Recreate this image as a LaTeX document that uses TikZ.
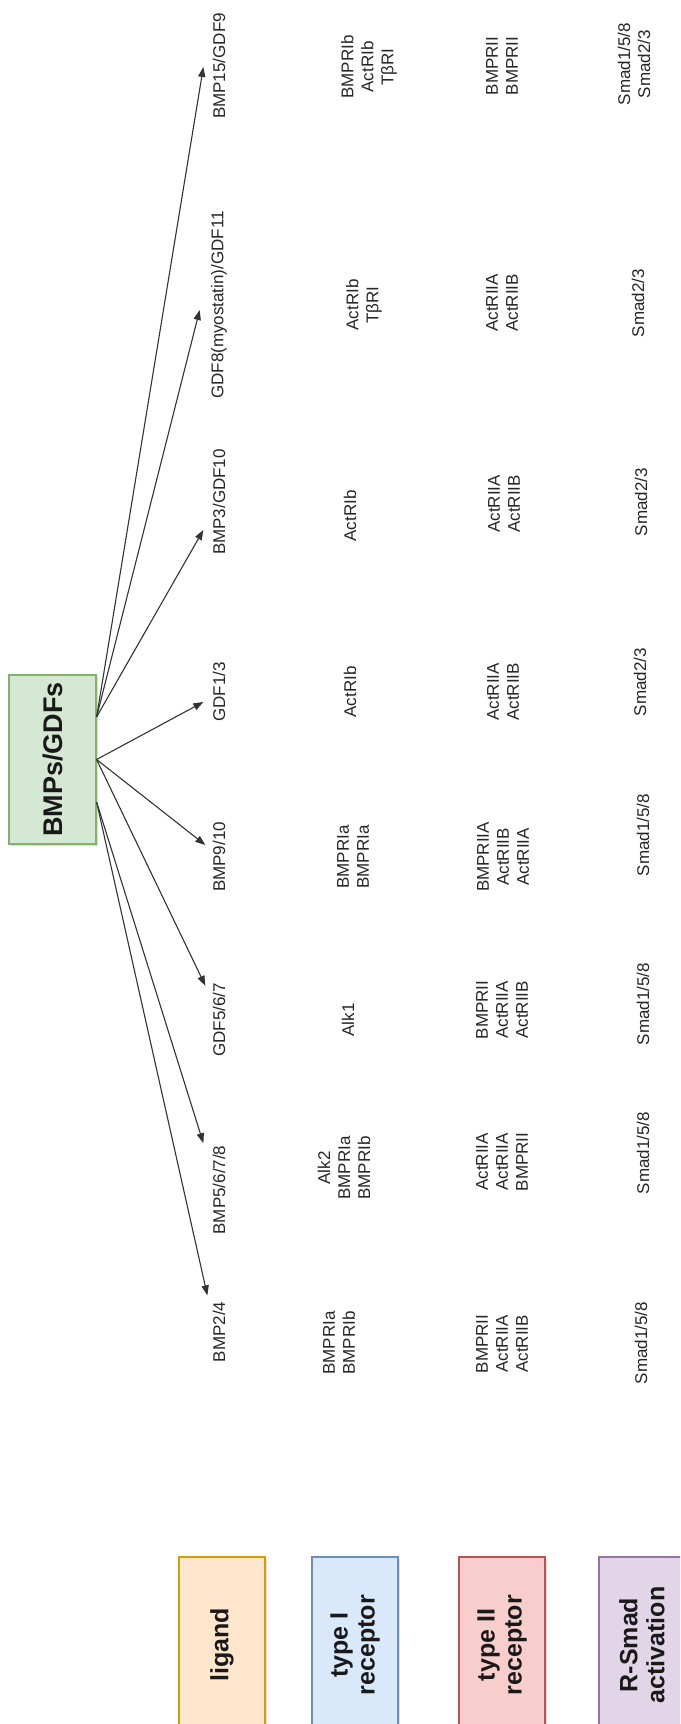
\documentclass[tikz,border=0pt]{standalone}
\usepackage{fontspec}
\setmainfont{Liberation Sans}
\usetikzlibrary{calc,arrows.meta,shadows}
\definecolor{gfill}{HTML}{D5E8D4}\definecolor{gdraw}{HTML}{82B366}
\definecolor{ofill}{HTML}{FFE6CC}\definecolor{odraw}{HTML}{D79B00}
\definecolor{bfill}{HTML}{DAE8FC}\definecolor{bdraw}{HTML}{6C8EBF}
\definecolor{rfill}{HTML}{F8CECC}\definecolor{rdraw}{HTML}{B85450}
\definecolor{pfill}{HTML}{E1D5E7}\definecolor{pdraw}{HTML}{9673A6}
\tikzset{
  lbl/.style={rotate=90, align=center, inner sep=1pt, text=black!85,
    font=\fontsize{8.5}{10}\selectfont},
  boxbase/.style={rotate=90, draw, line width=0.6pt, align=center, text=black!90,
    drop shadow={shadow xshift=0.8pt, shadow yshift=-0.8pt, opacity=0.25}},
  legendbox/.style={boxbase, minimum width=88pt, minimum height=43pt,
    font=\bfseries\fontsize{12.5}{13.5}\selectfont},
  arr/.style={-{Triangle[length=5pt,width=3.6pt]}, line width=0.55pt, draw=black!80},
}
\begin{document}
\begin{tikzpicture}[x=0.5pt,y=-0.5pt]
\useasboundingbox (0,0) rectangle (680,1724);
\clip (0,0) rectangle (680,1724);

% central box
\node[boxbase, fill=gfill, draw=gdraw, minimum width=84.5pt, minimum height=43.5pt,
  font=\bfseries\fontsize{13.5}{15}\selectfont] (bmp) at (52.5,759.5) {BMPs/GDFs};

% legend
\node[legendbox, fill=ofill, draw=odraw] (g1) at (222,1645) {ligand};
\node[legendbox, fill=bfill, draw=bdraw] (g2) at (355,1645) {type I\\receptor};
\node[legendbox, fill=rfill, draw=rdraw] (g3) at (502,1645) {type II\\receptor};
\node[legendbox, fill=pfill, draw=pdraw] (g4) at (642,1645) {R-Smad\\activation};

% ligands
\node[lbl] (l1) at (219,66)   {BMP15/GDF9};
\node[lbl] (l2) at (219,305)  {GDF8(myostatin)/GDF11};
\node[lbl] (l3) at (219,502)  {BMP3/GDF10};
\node[lbl] (l4) at (219,692)  {GDF1/3};
\node[lbl] (l5) at (219,857)  {BMP9/10};
\node[lbl] (l6) at (219,1020) {GDF5/6/7};
\node[lbl] (l7) at (219,1190) {BMP5/6/7/8};
\node[lbl] (l8) at (219,1332) {BMP2/4};

% type I receptors
\node[lbl] (r1) at (369,67)   {BMPRIb\\ActRIb\\TβRI};
\node[lbl] (r2) at (364,305)  {ActRIb\\TβRI};
\node[lbl] (r3) at (350,516)  {ActRIb};
\node[lbl] (r4) at (350,692)  {ActRIb};
\node[lbl] (r5) at (353,857)  {BMPRIa\\BMPRIa};
\node[lbl] (r6) at (348,1020) {Alk1};
\node[lbl] (r7) at (344,1168) {Alk2\\BMPRIa\\BMPRIb};
\node[lbl] (r8) at (339,1343) {BMPRIa\\BMPRIb};

% type II receptors
\node[lbl] (s1) at (502,66)   {BMPRII\\BMPRII};
\node[lbl] (s2) at (502,303)  {ActRIIA\\ActRIIB};
\node[lbl] (s3) at (504,504)  {ActRIIA\\ActRIIB};
\node[lbl] (s4) at (503,692)  {ActRIIA\\ActRIIB};
\node[lbl] (s5) at (503,857)  {BMPRIIA\\ActRIIB\\ActRIIA};
\node[lbl] (s6) at (502,1010) {BMPRII\\ActRIIA\\ActRIIB};
\node[lbl] (s7) at (502,1162) {ActRIIA\\ActRIIA\\BMPRII};
\node[lbl] (s8) at (502,1344) {BMPRII\\ActRIIA\\ActRIIB};

% R-Smads
\node[lbl] (m1) at (634,64)   {Smad1/5/8\\Smad2/3};
\node[lbl] (m2) at (638,303)  {Smad2/3};
\node[lbl] (m3) at (641,502)  {Smad2/3};
\node[lbl] (m4) at (640,682)  {Smad2/3};
\node[lbl] (m5) at (643,835)  {Smad1/5/8};
\node[lbl] (m6) at (643,1004) {Smad1/5/8};
\node[lbl] (m7) at (643,1153) {Smad1/5/8};
\node[lbl] (m8) at (641,1343) {Smad1/5/8};

% arrow origins on the box edge
\coordinate (sa) at ($(bmp.south)!0.5!(bmp.south east)$);
\coordinate (sb) at (bmp.south);
\coordinate (sc) at ($(bmp.south)!0.5!(bmp.south west)$);

\draw[arr] (sa) -- ($(l1.north)+(-7,1)$);
\draw[arr] (sa) -- ($(l2.north)+(-9,5)$);
\draw[arr] (sa) -- ($(l3.north)+(-7,28)$);
\draw[arr] (sb) -- ($(l4.north)+(-7,10)$);
\draw[arr] (sb) -- ($(l5.north)+(-5,-12)$);
\draw[arr] (sb) -- ($(l6.north east)+(-5,5)$);
\draw[arr] (sc) -- ($(l7.north east)+(-7,0)$);
\draw[arr] (sc) -- ($(l8.north east)+(-3,-4)$);
\end{tikzpicture}
\end{document}
